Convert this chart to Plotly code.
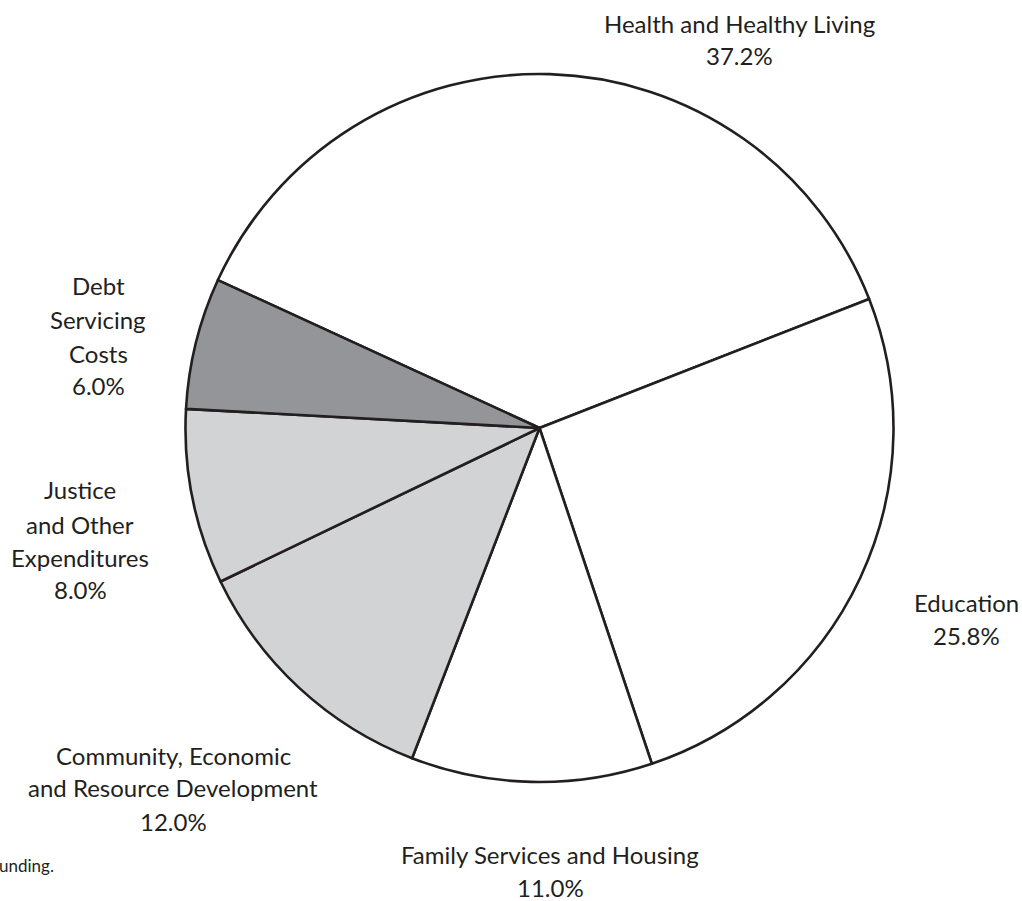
import plotly.graph_objects as go

# ---- data ----
categories = ["Health and Healthy Living", "Education", "Family Services and Housing",
              "Community, Economic and Resource Development", "Justice and Other Expenditures",
              "Debt Servicing Costs"]
values = [37.2, 25.8, 11.0, 12.0, 8.0, 6.0]
label_lines = [
    ["Health and Healthy Living"],
    ["Education"],
    ["Family Services and Housing"],
    ["Community, Economic", "and Resource Development"],
    ["Justice", "and Other", "Expenditures"],
    ["Debt", "Servicing", "Costs"],
]
footnote = "unding."

# ---- styles / layout ----
W, H = 1022, 901
colors = ["#ffffff", "#ffffff", "#ffffff", "#d1d3d4", "#d1d3d4", "#939598"]
txt_color = "#231f20"
FONT = "Lato"
FS = 24
# label centre x and line baselines (pixels)
label_pos = [
    (739, [32, 63]),
    (966, [610, 643]),
    (550, [862, 895]),
    (173, [763, 795, 829]),
    (80, [498, 532, 565, 597]),
    (98, [293, 327, 361, 393]),
]

def px(x):
    return x / W

def py(y):
    return 1 - y / H

fig = go.Figure(go.Pie(
    labels=categories,
    values=values,
    sort=False,
    direction="clockwise",
    rotation=-65.3,
    marker=dict(colors=colors, line=dict(color="#231f20", width=2.6)),
    textinfo="none",
    hoverinfo="skip",
    showlegend=False,
    domain=dict(x=[px(185), px(894)], y=[py(782), py(74)]),
))

annotations = []
for lines, v, (cx, baselines) in zip(label_lines, values, label_pos):
    all_lines = lines + [f"{v:.1f}%"]
    for t, b in zip(all_lines, baselines):
        annotations.append(dict(
            text=t, x=px(cx), y=py(b - 8), xref="paper", yref="paper",
            xanchor="center", yanchor="middle", showarrow=False,
            font=dict(family=FONT, size=FS, color=txt_color),
        ))
annotations.append(dict(
    text=footnote, x=px(0), y=py(870 - 5), xref="paper", yref="paper",
    xanchor="left", yanchor="middle", showarrow=False, xshift=-3,
    font=dict(family=FONT, size=17, color=txt_color),
))

fig.update_layout(
    width=W, height=H,
    margin=dict(l=0, r=0, t=0, b=0),
    paper_bgcolor="white", plot_bgcolor="white",
    annotations=annotations,
)

fig.write_html("out.html", config={"displayModeBar": False},
               post_script="document.body.style.margin='0';")
